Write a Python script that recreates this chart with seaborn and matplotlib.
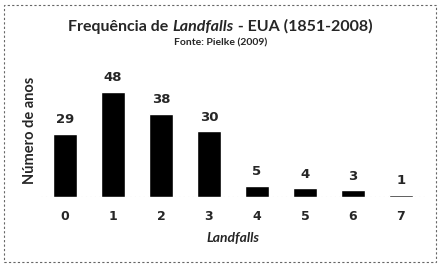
import matplotlib
matplotlib.use("Agg")
import matplotlib.pyplot as plt
import seaborn as sns
import pandas as pd
from matplotlib.patches import Rectangle

categories = ["0", "1", "2", "3", "4", "5", "6", "7"]
values = [29, 48, 38, 30, 5, 4, 3, 1]

sns.set_theme(style="white")
plt.rcParams["font.family"] = ["Lato", "DejaVu Sans"]

df = pd.DataFrame({"landfalls": categories, "anos": values})

fig = plt.figure(figsize=(4.41, 2.66), dpi=100)
ax = fig.add_axes([41/441, 1-197/266, 384/441, 127/266])
sns.barplot(data=df, x="landfalls", y="anos", color="black", width=0.5,
            saturation=1, ax=ax)
ax.set_ylim(0, 58)
ax.set_xlim(-0.5, 7.5)
for s in ax.spines.values():
    s.set_visible(False)
ax.set_yticks([])
ax.tick_params(axis="x", length=0, pad=9)
ax.set_xticks(range(len(categories)))
ax.set_xticklabels(categories, fontsize=9, fontweight="bold", family=["DejaVu Sans"])
ax.axhline(0, color="#aaaaaa", lw=0.8, ls=(0, (1, 3)), zorder=0)
for i, v in enumerate(values):
    ax.text(i, v + 3.5, str(v), ha="center", va="bottom", fontsize=9.5,
            fontweight="bold", family=["DejaVu Sans"])
ax.set_xlabel("Landfalls", fontsize=10, fontweight="bold", style="italic", labelpad=7)
ax.set_ylabel("")
fig.text(30/441, 1-130/266, "Número de anos", rotation=90, ha="center", va="center",
         fontsize=10.5, fontweight="bold")

# Title with italic part
fig.canvas.draw()
r = fig.canvas.get_renderer()
parts = [("Frequência de ", "normal"), ("Landfalls", "italic"), (" - EUA (1851-2008)", "normal")]
texts = []
widths = []
for s, st in parts:
    t = fig.text(0, 0, s, fontsize=11.5, fontweight="bold", style=st, va="baseline")
    w = t.get_window_extent(r).width
    texts.append(t); widths.append(w)
total = sum(widths)
x0 = (441 * 0.50 - total / 2)
ybase = 1 - 31/266
cx = x0
for t, w in zip(texts, widths):
    t.set_position((cx / 441, ybase))
    cx += w
fig.text(0.501, 1 - 43/266, "Fonte: Pielke (2009)", ha="center", va="center",
         fontsize=7.5, fontweight="bold")

fig.patches.append(Rectangle((4/441, 4/266), 432/441, 257/266, transform=fig.transFigure,
                             fill=False, ec="#666666", lw=0.8, ls=(0, (2, 2))))
fig.savefig("out.png", dpi=100)
